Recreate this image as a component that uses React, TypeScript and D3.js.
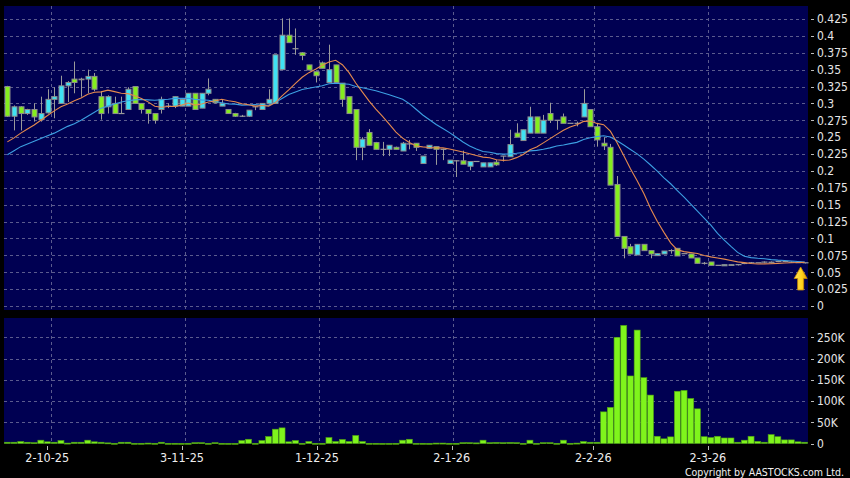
import React from "react";
import * as d3 from "d3";

const W = 850;
const H = 478;

const dateLabels = ["2-10-25", "3-11-25", "1-12-25", "2-1-26", "2-2-26", "2-3-26"];
const dateIndex = [7, 27, 47, 67, 88, 105];
const priceTicks = [0, 0.025, 0.05, 0.075, 0.1, 0.125, 0.15, 0.175, 0.2, 0.225, 0.25, 0.275, 0.3, 0.325, 0.35, 0.375, 0.4, 0.425];
const volTicks = [0, 50000, 100000, 150000, 200000, 250000];
const volTickLabels = ["0", "50K", "100K", "150K", "200K", "250K"];

const opens = [
  0.325, 0.281, 0.295, 0.285, 0.291, 0.276, 0.286, 0.306, 0.300, 0.326,
  0.336, 0.335, 0.336, 0.340, 0.310, 0.295, 0.300, 0.285, 0.291, 0.325,
  0.300, 0.291, 0.285, 0.291, 0.296, 0.296, 0.296, 0.296, 0.315, 0.293,
  0.315, 0.306, 0.296, 0.291, 0.285, 0.281, 0.281, 0.295, 0.291, 0.300,
  0.300, 0.350, 0.401, 0.381, 0.375, 0.357, 0.347, 0.360, 0.331, 0.357,
  0.330, 0.310, 0.291, 0.235, 0.257, 0.242, 0.232, 0.232, 0.235, 0.2295,
  0.240, 0.241, 0.211, 0.2335, 0.236, 0.232, 0.211, 0.215, 0.215, 0.207,
  0.214, 0.206, 0.206, 0.213, 0.222, 0.221, 0.256, 0.245, 0.256, 0.280,
  0.256, 0.285, 0.275, 0.280, 0.2705, 0.2705, 0.280, 0.291, 0.2655, 0.241,
  0.235, 0.180, 0.103, 0.0878, 0.0755, 0.0913, 0.082, 0.0746, 0.077, 0.082,
  0.0854, 0.0775, 0.077, 0.0711, 0.0632, 0.0652, 0.0602, 0.0595, 0.060, 0.0612,
  0.063, 0.064, 0.064, 0.065, 0.064, 0.066, 0.066, 0.065, 0.065, 0.064,
];
const highs = [
  0.326, 0.297, 0.296, 0.292, 0.300, 0.310, 0.321, 0.324, 0.341, 0.333,
  0.362, 0.338, 0.350, 0.345, 0.318, 0.312, 0.310, 0.310, 0.324, 0.325,
  0.300, 0.291, 0.285, 0.310, 0.300, 0.310, 0.306, 0.315, 0.315, 0.315,
  0.337, 0.306, 0.305, 0.291, 0.286, 0.283, 0.290, 0.296, 0.300, 0.321,
  0.372, 0.426, 0.426, 0.411, 0.376, 0.357, 0.347, 0.362, 0.387, 0.357,
  0.330, 0.310, 0.291, 0.250, 0.262, 0.243, 0.243, 0.238, 0.236, 0.243,
  0.246, 0.241, 0.222, 0.238, 0.236, 0.233, 0.216, 0.216, 0.230, 0.214,
  0.214, 0.212, 0.212, 0.2165, 0.222, 0.261, 0.2705, 0.261, 0.295, 0.280,
  0.283, 0.301, 0.275, 0.285, 0.2705, 0.273, 0.321, 0.291, 0.270, 0.2497,
  0.240, 0.1925, 0.103, 0.092, 0.0913, 0.0913, 0.082, 0.0775, 0.0814, 0.084,
  0.0854, 0.0775, 0.077, 0.0711, 0.0652, 0.0652, 0.0602, 0.0612, 0.0612, 0.0612,
  0.063, 0.0652, 0.064, 0.066, 0.066, 0.067, 0.066, 0.066, 0.065, 0.064,
];
const lows = [
  0.280, 0.260, 0.260, 0.283, 0.273, 0.273, 0.285, 0.278, 0.300, 0.302,
  0.315, 0.310, 0.315, 0.318, 0.276, 0.285, 0.285, 0.285, 0.291, 0.300,
  0.285, 0.270, 0.270, 0.285, 0.293, 0.293, 0.296, 0.296, 0.291, 0.293,
  0.312, 0.300, 0.296, 0.285, 0.280, 0.280, 0.280, 0.290, 0.291, 0.300,
  0.300, 0.350, 0.390, 0.372, 0.364, 0.349, 0.331, 0.352, 0.331, 0.331,
  0.295, 0.285, 0.216, 0.216, 0.238, 0.232, 0.222, 0.222, 0.232, 0.2295,
  0.232, 0.2296, 0.211, 0.2335, 0.209, 0.216, 0.211, 0.191, 0.210, 0.201,
  0.214, 0.206, 0.206, 0.2075, 0.214, 0.221, 0.250, 0.245, 0.256, 0.256,
  0.256, 0.271, 0.261, 0.2705, 0.2705, 0.266, 0.280, 0.2655, 0.236, 0.231,
  0.179, 0.103, 0.0706, 0.077, 0.0755, 0.082, 0.0706, 0.0746, 0.077, 0.0775,
  0.0741, 0.0775, 0.0711, 0.0632, 0.0613, 0.0602, 0.0602, 0.0595, 0.060, 0.060,
  0.062, 0.063, 0.064, 0.064, 0.063, 0.065, 0.065, 0.064, 0.064, 0.063,
];
const closes = [
  0.281, 0.295, 0.285, 0.291, 0.280, 0.285, 0.306, 0.310, 0.326, 0.331,
  0.331, 0.336, 0.340, 0.321, 0.285, 0.310, 0.285, 0.285, 0.321, 0.300,
  0.291, 0.285, 0.275, 0.306, 0.296, 0.310, 0.306, 0.315, 0.291, 0.315,
  0.321, 0.301, 0.300, 0.285, 0.281, 0.281, 0.290, 0.295, 0.300, 0.306,
  0.372, 0.401, 0.390, 0.381, 0.371, 0.3495, 0.341, 0.352, 0.350, 0.331,
  0.306, 0.285, 0.235, 0.247, 0.238, 0.232, 0.232, 0.238, 0.232, 0.241,
  0.240, 0.235, 0.222, 0.238, 0.232, 0.232, 0.216, 0.215, 0.210, 0.214,
  0.214, 0.212, 0.212, 0.209, 0.222, 0.239, 0.250, 0.261, 0.280, 0.256,
  0.275, 0.275, 0.275, 0.2705, 0.2705, 0.2705, 0.300, 0.2655, 0.246, 0.237,
  0.179, 0.103, 0.0854, 0.077, 0.0913, 0.082, 0.077, 0.0775, 0.0814, 0.082,
  0.0741, 0.0775, 0.0711, 0.0632, 0.0632, 0.0602, 0.0602, 0.0612, 0.0612, 0.0612,
  0.063, 0.064, 0.064, 0.065, 0.065, 0.066, 0.066, 0.065, 0.064, 0.064,
];
const volumes = [
  3000, 3000, 4700, 3000, 2000, 7800, 4000, 3000, 7000, 1000,
  3000, 3000, 7800, 4000, 3000, 1500, 500, 3000, 3000, 500,
  500, 1000, 500, 3000, 500, 500, 300, 500, 2000, 2000,
  500, 2000, 500, 300, 300, 7000, 10000, 500, 7000, 16500,
  33700, 36800, 4000, 7000, 500, 4700, 500, 500, 14000, 4700,
  9400, 4700, 18900, 4700, 500, 500, 300, 300, 500, 7800,
  10000, 500, 500, 300, 1000, 1000, 500, 500, 2000, 2000,
  1500, 7800, 2000, 2500, 2000, 2500, 2000, 500, 7800, 500,
  2000, 2000, 500, 7800, 500, 1000, 4700, 3000, 3000, 74500,
  85000, 250000, 278000, 159000, 267000, 155000, 114000, 17000, 11000, 15600,
  123000, 125000, 106000, 81600, 16000, 14000, 17000, 13000, 13000, 3000,
  7800, 17000, 5000, 3000, 21000, 16000, 8500, 8500, 4000, 3000,
];
// moving-average values before a full window of closes exists
const ma10Head = [0.243, 0.249, 0.256, 0.262, 0.268, 0.275, 0.282, 0.289, 0.295];
const ma20Head = [0.224, 0.23, 0.236, 0.24, 0.244, 0.248, 0.252, 0.256, 0.261, 0.266, 0.27, 0.275, 0.281, 0.287, 0.293, 0.296, 0.299, 0.302, 0.304];

const N = closes.length;
const FONT = "'DejaVu Sans Condensed', 'DejaVu Sans', sans-serif";

function movingAverage(head: number[], n: number): number[] {
  return closes.map((_, i) => (i < n - 1 ? head[i] : (d3.mean(closes.slice(i - n + 1, i + 1)) as number)));
}

export default function App() {
  const px0 = 4;
  const px1 = 808;
  const pTop = 6;
  const pBot = 310;
  const vTop = 318;
  const vBot = 443.5;

  const x = d3.scaleBand<number>().domain(d3.range(N)).range([px0, px1]).padding(0);
  const bw = x.bandwidth();
  const cx = (i: number) => (x(i) as number) + bw / 2;
  const yP = d3.scaleLinear().domain([0, 0.425]).range([306, 19]);
  const yV = d3.scaleLinear().domain([0, 250000]).range([vBot, 337.3]);
  const xT = d3.scaleLinear().domain([0, N]).range([0, 809]);

  const ma10 = movingAverage(ma10Head, 10);
  const ma20 = movingAverage(ma20Head, 20);
  const line = d3
    .line<number>()
    .x((_, i) => cx(i))
    .y((d) => yP(d))
    .curve(d3.curveLinear);

  const grid = "#5b5b8e";
  const navy = "#000052";
  const upFill = "#3fe2f4";
  const downFill = "#84ee1e";
  const edge = "#8d8d8d";
  const wick = "#9a9a9a";

  const lastX = cx(N - 1) - 4;

  return (
    <svg
      width={W}
      height={H}
      style={{ position: "absolute", left: 0, top: 0, display: "block" }}
      fontFamily={FONT}
    >
      <defs>
        <linearGradient id="arrowGrad" x1="0" y1="0" x2="1" y2="0">
          <stop offset="0" stopColor="#ffe45a" />
          <stop offset="0.6" stopColor="#ffd21a" />
          <stop offset="1" stopColor="#e09a00" />
        </linearGradient>
      </defs>
      <rect x={0} y={0} width={W} height={H} fill="#000" />
      <rect x={px0} y={pTop} width={px1 - px0} height={pBot - pTop} fill={navy} />
      <rect x={px0} y={vTop} width={px1 - px0} height={vBot - vTop} fill={navy} />

      {/* price grid */}
      {priceTicks.map((t) => (
        <line
          key={"pg" + t}
          x1={px0}
          x2={px1}
          y1={Math.round(yP(t)) + 0.5}
          y2={Math.round(yP(t)) + 0.5}
          stroke={grid}
          strokeDasharray="3,3"
        />
      ))}
      {volTicks.slice(1).map((t) => (
        <line
          key={"vg" + t}
          x1={px0}
          x2={px1}
          y1={Math.round(yV(t)) + 0.5}
          y2={Math.round(yV(t)) + 0.5}
          stroke={grid}
          strokeDasharray="3,3"
        />
      ))}
      {dateIndex.map((di) => {
        const gx = Math.round(x(di) as number) + 0.5;
        return (
          <g key={"vgl" + di}>
            <line x1={gx} x2={gx} y1={pTop} y2={pBot} stroke={grid} strokeDasharray="3,3" />
            <line x1={gx} x2={gx} y1={vTop} y2={vBot} stroke={grid} strokeDasharray="3,3" />
          </g>
        );
      })}

      {/* volume bars */}
      {volumes.map((v, i) => {
        const top = yV(v);
        return (
          <rect
            key={"v" + i}
            x={cx(i) - 3}
            y={top}
            width={6}
            height={Math.max(vBot - top, 1)}
            fill="#7ff41c"
            stroke="#4fa012"
            strokeWidth={0.6}
          />
        );
      })}

      {/* candles */}
      {closes.map((c, i) => {
        const o = opens[i];
        const xc = Math.round(cx(i)) + 0.5;
        const yHi = yP(highs[i]);
        const yLo = yP(lows[i]);
        const top = yP(Math.max(o, c));
        const bot = yP(Math.min(o, c));
        const doji = Math.abs(o - c) < 0.0006;
        return (
          <g key={"c" + i}>
            <line x1={xc} x2={xc} y1={yHi} y2={yLo} stroke={wick} strokeWidth={1} />
            {doji ? (
              <line x1={xc - 3} x2={xc + 3} y1={top} y2={top} stroke={wick} strokeWidth={1.2} />
            ) : (
              <rect
                x={xc - 2.5}
                y={top}
                width={5}
                height={bot - top}
                fill={c > o ? upFill : downFill}
                stroke={edge}
                strokeWidth={1}
              />
            )}
          </g>
        );
      })}

      {/* moving averages */}
      <path d={line(ma20) || ""} fill="none" stroke="#3c9fe2" strokeWidth={1.1} />
      <path d={line(ma10) || ""} fill="none" stroke="#e58a4e" strokeWidth={1.1} />

      {/* latest marker arrow */}
      <polygon
        points={[
          [lastX, 267],
          [lastX + 6.5, 278.5],
          [lastX + 3, 278.5],
          [lastX + 3, 290],
          [lastX - 3, 290],
          [lastX - 3, 278.5],
          [lastX - 6.5, 278.5],
        ]
          .map((p) => p.join(","))
          .join(" ")}
        fill="url(#arrowGrad)"
        stroke="#c98a00"
        strokeWidth={0.8}
      />

      {/* right price axis */}
      {priceTicks.map((t) => (
        <g key={"pt" + t}>
          <line x1={811} x2={814} y1={Math.round(yP(t)) + 0.5} y2={Math.round(yP(t)) + 0.5} stroke="#bbb" />
          <text x={817} y={yP(t)} dy="0.36em" fill="#e6e6e6" fontSize={12} fontStretch="condensed">
            {String(t)}
          </text>
        </g>
      ))}
      {volTicks.map((t, k) => (
        <g key={"vt" + t}>
          <line x1={811} x2={814} y1={Math.round(yV(t)) + 0.5} y2={Math.round(yV(t)) + 0.5} stroke="#bbb" />
          <text x={817} y={yV(t)} dy="0.36em" fill="#e6e6e6" fontSize={12} fontStretch="condensed">
            {volTickLabels[k]}
          </text>
        </g>
      ))}

      {/* date axis */}
      {dateIndex.map((di, k) => {
        const tx = xT(di);
        return (
          <g key={"dt" + di}>
            <line x1={Math.round(tx) + 0.5} x2={Math.round(tx) + 0.5} y1={446} y2={450} stroke="#bbb" />
            <text x={tx} y={462} textAnchor="middle" fill="#eeeeee" fontSize={12.5} fontStretch="condensed">
              {dateLabels[k]}
            </text>
          </g>
        );
      })}

      <text x={844} y={475.5} textAnchor="end" fill="#f0f0f0" fontSize={10.5} fontStretch="condensed">
        Copyright by AASTOCKS.com Ltd.
      </text>
    </svg>
  );
}
